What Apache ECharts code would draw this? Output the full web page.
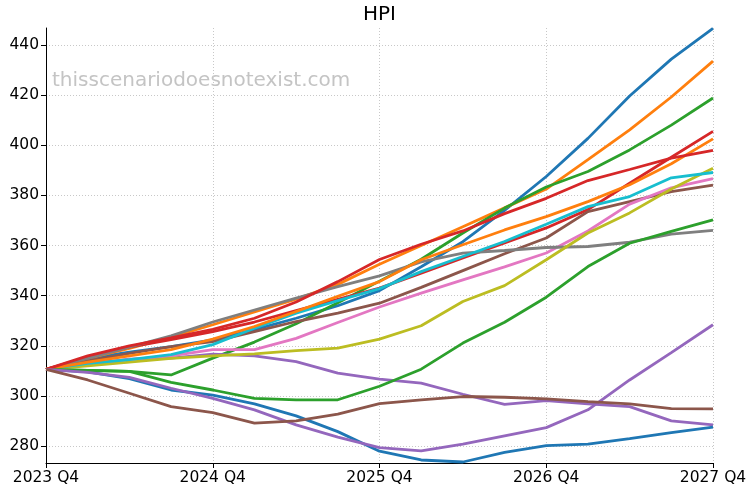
<!DOCTYPE html>
<html>
<head>
<meta charset="utf-8">
<script src="https://cdn.jsdelivr.net/npm/echarts@6/dist/echarts.min.js"></script>
<style>
html,body{margin:0;padding:0;background:#fff;}
#chart{width:754px;height:492px;}
</style>
</head>
<body>
<div id="chart"></div>
<script>
const categories = ["2023 Q4","2024 Q1","2024 Q2","2024 Q3","2024 Q4","2025 Q1","2025 Q2","2025 Q3","2025 Q4","2026 Q1","2026 Q2","2026 Q3","2026 Q4","2027 Q1","2027 Q2","2027 Q3","2027 Q4"];
const yTicks = [280,300,320,340,360,380,400,420,440];

const blueA   = [310.6,315,317.5,319.7,322.4,326.5,331,336,342,351.5,361.5,374,387.5,402.7,419.6,434.3,446.6];
const orangeA = [310.6,315,319,323.5,328.4,333.5,338.6,344.5,352.5,360,367.5,375,382.5,394.2,406.1,419.2,433.5];
const greenA  = [310.6,310.2,309.8,308.4,315.1,321.5,328.8,337.2,345.8,354.5,365,374.9,383.3,389.5,398.1,408,418.8];
const redA    = [310.6,315.5,319.5,322.5,325.7,329.5,334,338.5,343,349,355,361,367,374.3,384.8,395.2,405.5];
const purpleA = [310.6,312.4,314.7,315.1,316.7,316,313.7,309.1,306.7,305.1,300.7,296.7,298.2,296.9,295.8,290.1,288.5];
const brownA  = [310.6,314,317,319.7,321.7,325.7,329.7,333,337,343.3,350,356.7,363,373.5,377.5,381.5,384.1];
const pink    = [310.6,313,314.5,316,318.5,318.5,323,329.3,335.5,341,346.3,351.5,357,365.8,376.5,383,386.7];
const gray    = [310.6,315,319.5,324,329.5,334.3,339,343.6,347.9,353.5,357,358,359.2,359.6,361.3,364.5,366];
const olive   = [310.6,312,313.5,315,316,316.8,318.1,319.1,322.7,328,337.7,344,354.3,365,373,382.5,390.8];
const cyan    = [310.6,313,314.5,316.5,320.5,327,333,338,342.8,349.6,355.6,361.6,368.5,375.5,379.5,387,389.1];
const blueB   = [310.6,309.6,306.9,302.4,300.4,296.9,292.1,285.8,278,274.5,273.7,277.5,280.2,280.8,283,285.4,287.6];
const orangeB = [310.6,313.5,316,318.5,322.7,327.7,333.7,339.7,345.6,354.3,360.3,366.2,371.5,377.5,384.2,392.6,402.5];
const greenB  = [310.6,310.2,309.8,305.4,302.4,299.1,298.5,298.5,303.9,310.7,321.1,329.4,339.4,351.6,360.9,365.6,370.2];
const redB    = [310.6,316,320,323.2,326.6,331,337.5,345.6,354.4,360.5,365.8,372.7,378.8,385.9,390.3,394.8,397.9];
const purpleB = [310.6,309.4,307.4,303.1,299.1,294.5,288.5,283.6,279.4,278.1,280.8,284.1,287.4,294.5,306.4,317.3,328.4];
const brownB  = [310.6,306.4,301.1,295.8,293.4,289.2,290.1,292.8,297,298.5,299.8,299.5,298.9,297.8,296.9,295,294.9];

const seriesData = [blueA, orangeA, greenA, redA, purpleA, brownA, pink, gray, olive, cyan, blueB, orangeB, greenB, redB, purpleB, brownB];
const colors = ['#1f77b4','#ff7f0e','#2ca02c','#d62728','#9467bd','#8c564b','#e377c2','#7f7f7f','#bcbd22','#17becf','#1f77b4','#ff7f0e','#2ca02c','#d62728','#9467bd','#8c564b'];

const chart = echarts.init(document.getElementById('chart'), null, {renderer:'canvas'});
const font = 'DejaVu Sans';
chart.setOption({
  animation: false,
  backgroundColor: '#fff',
  grid: {left: 46, right: 41, top: 28, bottom: 29, containLabel: false},
  graphic: [
    {type:'text', x: 379.5, y: 5, style:{text:'HPI', font: '20px "DejaVu Sans"', fill:'#000', textAlign:'center', textVerticalAlign:'top'}},
    {type:'text', x: 52, y: 71, style:{text:'thisscenariodoesnotexist.com', font: '20px "DejaVu Sans"', fill:'#c4c4c4', textVerticalAlign:'top'}}
  ],
  xAxis: {
    type: 'category',
    data: categories,
    boundaryGap: false,
    axisLine: {show:true, lineStyle:{color:'#000', width:1}},
    axisTick: {show:true, interval:3, length:5, lineStyle:{color:'#000'}},
    axisLabel: {interval:3, color:'#000', fontFamily: font, fontSize:15.5, margin:7, showMinLabel:true, showMaxLabel:true},
    splitLine: {show:true, interval:3, lineStyle:{color:'#c8c8c8', type:[1,2], width:1}}
  },
  yAxis: {
    type: 'value',
    min: 273.3,
    max: 446.7,
    axisLine: {show:true, lineStyle:{color:'#000', width:1}},
    axisTick: {show:true, length:5, customValues: yTicks, lineStyle:{color:'#000'}},
    axisLabel: {customValues: yTicks, color:'#000', fontFamily: font, fontSize:15.5, margin:7},
    splitLine: {show:true, lineStyle:{color:'#c8c8c8', type:[1,2], width:1}}
  },
  series: seriesData.map((d,i)=>({
    type:'line',
    data:d,
    showSymbol:false,
    symbol:'none',
    lineStyle:{width:2.8, color:colors[i]},
    itemStyle:{color:colors[i]},
    silent:true,
    clip:true,
    z: 2
  }))
});
</script>
</body>
</html>
